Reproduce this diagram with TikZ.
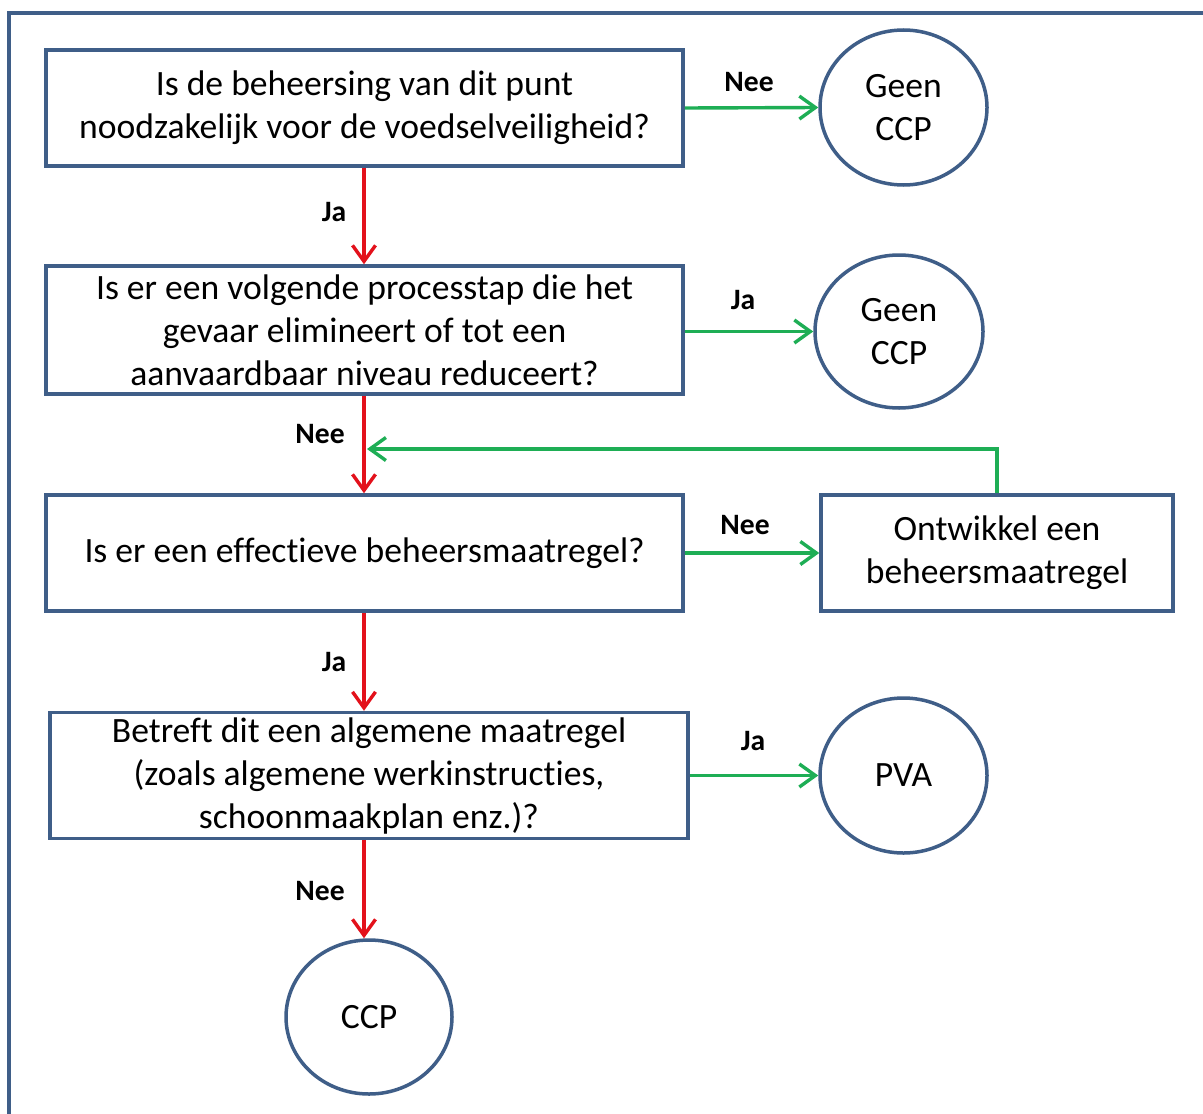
\documentclass[tikz,border=0pt]{standalone}
\usepackage{fontspec}
\setmainfont{Carlito}[Ligatures={NoCommon}]
\usetikzlibrary{arrows.meta,shapes.geometric}
\definecolor{frameblue}{HTML}{3F5E88}
\definecolor{arrgreen}{HTML}{1EAE55}
\definecolor{arrred}{HTML}{E3111B}
\tikzset{
  boxnode/.style={draw=frameblue,line width=1.75pt,rectangle,align=center,inner sep=0pt,
    font=\fontsize{17.8}{21.5}\selectfont},
  ovalnode/.style={draw=frameblue,line width=1.75pt,ellipse,align=center,inner sep=0pt,
    font=\fontsize{17.8}{21.5}\selectfont},
  lbl/.style={font=\bfseries\fontsize{14.8}{17}\selectfont,inner sep=0pt},
  yesno/.style={line width=1.7pt,-{Straight Barb[length=8pt,width=11.5pt,line width=1.7pt]}},
  redarr/.style={yesno,draw=arrred},
  greenarr/.style={yesno,draw=arrgreen},
}
\begin{document}
\begin{tikzpicture}[x=0.5pt,y=-0.5pt]
\useasboundingbox (0,0) rectangle (1203,1113);
\fill[white] (0,0) rectangle (1203,1113);
% outer frame (right and bottom sides lie outside the picture)
\draw[frameblue,line width=1.7pt] (9,1125) -- (9,13) -- (1215,13);

% boxes
\node[boxnode,minimum width=318.5pt,minimum height=58pt] (b1) at (364.5,108)
  {Is de beheersing van dit punt\\noodzakelijk voor de voedselveiligheid?};
\node[boxnode,minimum width=318.5pt,minimum height=64pt] (b2) at (364.5,330)
  {Is er een volgende processtap die het\\gevaar elimineert of tot een\\aanvaardbaar niveau reduceert?};
\node[boxnode,minimum width=318.5pt,minimum height=58pt] (b3) at (364.5,553)
  {Is er een effectieve beheersmaatregel?};
\node[boxnode,minimum width=176pt,minimum height=58pt] (b4) at (997,553)
  {Ontwikkel een\\beheersmaatregel};
\node[boxnode,minimum width=319pt,minimum height=63pt] (b5) at (369,775.5)
  {Betreft dit een algemene maatregel\\(zoals algemene werkinstructies,\\schoonmaakplan enz.)?};

% ovals
\node[ovalnode,minimum width=83.5pt,minimum height=77.5pt] (c1) at (903.5,107.5) {Geen\\CCP};
\node[ovalnode,minimum width=84pt,minimum height=76.5pt] (c2) at (899,331.5) {Geen\\CCP};
\node[ovalnode,minimum width=83.5pt,minimum height=77.5pt] (c3) at (903.5,775.5) {PVA};
\node[ovalnode,minimum width=83pt,minimum height=77pt] (c4) at (369,1017) {CCP};

% red (vertical) arrows
\draw[redarr] (b1.south -| 364,0) -- (b2.north -| 364,0);
\draw[redarr] (b2.south -| 364,0) -- (b3.north -| 364,0);
\draw[redarr] (b3.south -| 364,0) -- (b5.north -| 364,0);
\draw[redarr] (b5.south -| 364,0) -- (c4.north -| 364,0);

% green (horizontal) arrows
\draw[greenarr] (b1.east) -- (c1.west);
\draw[greenarr] (b2.east |- c2.west) -- (c2.west);
\draw[greenarr] (b3.east) -- (b4.west);
\draw[greenarr] (b5.east) -- (c3.west);

% feedback arrow
\coordinate (fb) at (367,449);
\draw[greenarr] (b4.north) |- (fb);

% labels
\node[lbl] (l1) at (749,82) {Nee};
\node[lbl] (l2) at (334,212) {Ja};
\node[lbl] (l3) at (743,300) {Ja};
\node[lbl] (l4) at (320,434) {Nee};
\node[lbl] (l5) at (745,525) {Nee};
\node[lbl] (l6) at (334,662) {Ja};
\node[lbl] (l7) at (753,741) {Ja};
\node[lbl] (l8) at (320,891) {Nee};
\end{tikzpicture}
\end{document}
